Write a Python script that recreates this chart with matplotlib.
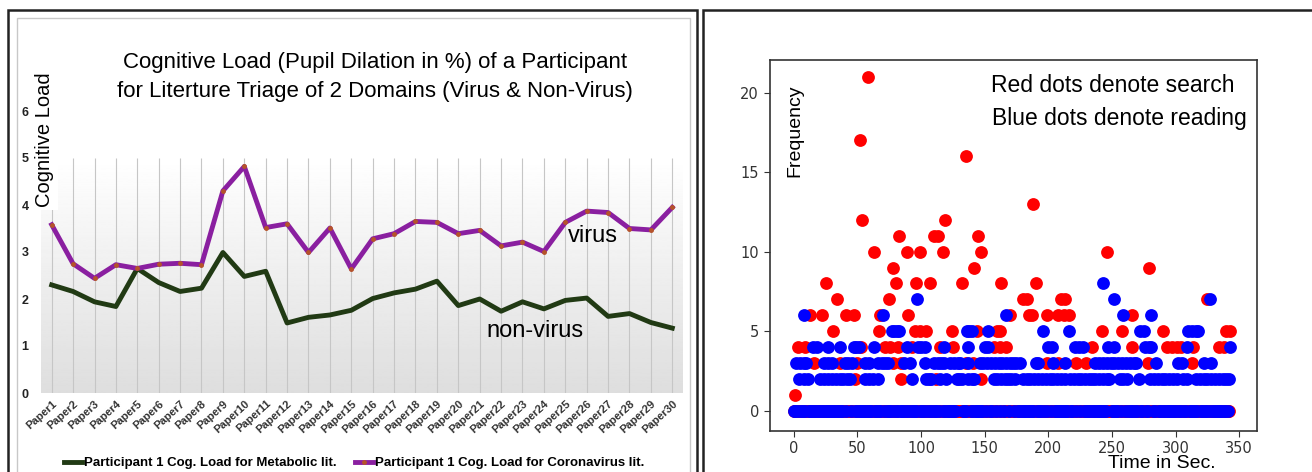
import matplotlib
matplotlib.use('Agg')
import matplotlib.pyplot as plt
import numpy as np
from matplotlib.patches import Rectangle

# ---- left chart: cognitive load per paper ----
papers = ['Paper%d' % i for i in range(1, 31)]
virus = [3.58, 2.75, 2.44, 2.73, 2.65, 2.74, 2.76, 2.73, 4.30, 4.82,
         3.52, 3.60, 2.99, 3.51, 2.64, 3.28, 3.39, 3.65, 3.63, 3.39,
         3.46, 3.13, 3.21, 3.01, 3.63, 3.87, 3.84, 3.50, 3.47, 3.95]
nonvirus = [2.30, 2.16, 1.94, 1.84, 2.65, 2.35, 2.16, 2.23, 2.99, 2.48,
            2.59, 1.49, 1.61, 1.66, 1.76, 2.01, 2.13, 2.21, 2.38, 1.86,
            2.00, 1.74, 1.94, 1.79, 1.97, 2.02, 1.63, 1.69, 1.50, 1.38]

# ---- right chart: frequency per second (non-zero values, zero elsewhere) ----
search = {
    1: [1],
    2: [48, 84, 112, 147],
    3: [16, 36, 50, 78, 84, 135, 141, 199, 208, 222, 230, 278, 313],
    4: [3, 9, 53, 72, 76, 82, 93, 115, 125, 157, 162, 167, 234, 266, 293, 297,
        301, 304, 314, 334, 338],
    5: [31, 67, 95, 99, 104, 124, 144, 160, 162, 242, 258, 290, 340, 343],
    6: [13, 22, 41, 47, 68, 90, 170, 185, 187, 199, 208, 212, 216, 266],
    7: [34, 75, 180, 183, 210, 213, 325],
    8: [25, 80, 96, 107, 132, 163, 190],
    9: [78, 142, 279],
    10: [63, 89, 99, 117, 147, 246],
    11: [83, 110, 113, 145],
    12: [54, 119],
    13: [188],
    16: [135],
    17: [52],
    21: [58],
}
reading = {
    2: [4, 8, 11, 21, 24, 27, 30, 33, 36, 39, 42, 44, 56, 59, 62, 66, 93, 104,
        106, 108, 115, 120, 128, 130, 132, 137, 140, 142, 157, 160, 163, 166,
        168, 171, 174, 180, 183, 186, 189, 192, 195, 198, 201, 204, 207, 210,
        213, 217, 220, 223, 226, 229, 232, 234, 237, 240, 243, 246, 248, 256,
        259, 262, 271, 280, 283, 286, 289, 292, 295, 298, 301, 306, 309, 316,
        319, 322, 325, 328, 331, 334, 337, 340, 342],
    3: [2, 5, 8, 10, 24, 27, 30, 40, 43, 46, 56, 59, 66, 69, 72, 74, 87, 91, 103,
        110, 113, 116, 118, 123, 126, 129, 131, 137, 146, 149, 152, 155, 158,
        161, 164, 167, 170, 172, 175, 178, 190, 192, 204, 213, 237, 240, 243,
        246, 249, 252, 255, 258, 261, 264, 267, 269, 285, 302, 305, 322, 328],
    4: [15, 18, 27, 36, 47, 49, 51, 63, 89, 98, 100, 103, 118, 137, 150, 153,
        200, 203, 221, 224, 227, 247, 252, 276, 279, 281, 309, 343],
    5: [77, 79, 81, 83, 136, 138, 140, 153, 196, 216, 272, 275, 310, 313, 316, 318],
    6: [8, 70, 167, 259, 281],
    7: [97, 252, 327],
    8: [243],
}
seconds = np.arange(0, 344)


def to_points(levels):
    ts, fs = [], []
    for f, times in levels.items():
        ts += times
        fs += [f] * len(times)
    busy = set(ts)
    zeros = [t for t in seconds if t not in busy]
    return np.array(zeros + ts), np.array([0] * len(zeros) + fs)


W, H = 1312, 472
sans = ['Liberation Sans', 'DejaVu Sans']
fig = plt.figure(figsize=(W / 100, H / 100), dpi=100)

# panel frames
fig.add_artist(Rectangle((8 / W, -0.1), (697 - 8) / W, 1.1 - 10 / H, transform=fig.transFigure,
                         fill=False, ec='#222222', lw=1.8))
fig.add_artist(Rectangle((17 / W, -0.1), (690 - 17) / W, 1.1 - 18 / H, transform=fig.transFigure,
                         fill=False, ec='#c8c8c8', lw=1.0))
fig.add_artist(Rectangle((703 / W, -0.1), 0.6, 1.1 - 10 / H, transform=fig.transFigure,
                         fill=False, ec='#222222', lw=1.8))

# left chart
ax1 = fig.add_axes([41 / W, 1 - 393 / H, (683 - 41) / W, (393 - 111) / H])
x = np.arange(1, len(papers) + 1)
grad = np.linspace(0.87, 1.0, 256).reshape(-1, 1)
ax1.imshow(grad, extent=[0.5, 30.5, 0, 5], origin='lower', cmap='gray', vmin=0, vmax=1,
           aspect='auto', zorder=0)
ax1.vlines(x, 0, 5, color='#c6c6c6', lw=0.8, zorder=1)
ax1.plot(x, nonvirus, color='#213a14', lw=3.5, zorder=3, solid_joinstyle='round',
         label='Participant 1 Cog. Load for Metabolic lit.')
ax1.plot(x, virus, color='#8a1fa0', lw=3.5, zorder=4, solid_joinstyle='round',
         marker='o', ms=2.5, mfc='#b5532a', mec='#b5532a',
         label='Participant 1 Cog. Load for Coronavirus lit.')
ax1.set_xlim(0.5, 30.5)
ax1.set_ylim(0, 6)
ax1.set_yticks(range(7))
ax1.set_yticklabels([str(v) for v in range(7)], fontsize=9, fontweight='bold',
                    family=sans, color='#222222')
ax1.set_xticks(x)
ax1.set_xticklabels(papers, rotation=42, ha='right', rotation_mode='anchor', fontsize=8,
                    fontweight='bold', family=sans, color='#333333')
ax1.tick_params(length=0)
ax1.tick_params(axis='y', pad=9)
ax1.tick_params(axis='x', pad=4)
for s in ax1.spines.values():
    s.set_visible(False)
ax1.set_facecolor('none')
ax1.text(26.3, 3.34, 'virus', fontsize=17, family=sans, ha='center', va='center', zorder=5)
ax1.text(23.6, 1.32, 'non-virus', fontsize=17, family=sans, ha='center', va='center', zorder=5)

fig.text(375 / W, 1 - 77 / H,
         'Cognitive Load (Pupil Dilation in %) of a Participant\n'
         'for Literture Triage of 2 Domains (Virus & Non-Virus)',
         fontsize=16, family=sans, ha='center', va='center', linespacing=1.45)
fig.text(45 / W, 1 - 140 / H, 'Cognitive Load', rotation=90, fontsize=14.5, family=sans,
         ha='center', va='center',
         bbox=dict(boxstyle='square,pad=0.15', fc='white', ec='none'))
fig.legend(loc='center', bbox_to_anchor=(354 / W, 1 - 463 / H), ncol=2, frameon=False,
           handlelength=1.4, handletextpad=0.1, columnspacing=1.4,
           prop={'family': sans, 'weight': 'bold', 'size': 9.5})

# right chart
ax2 = fig.add_axes([769.5 / W, 1 - 431 / H, (1257 - 769.5) / W, (431 - 60) / H])
rt, rf = to_points(search)
bt, bf = to_points(reading)
ax2.scatter(rt, rf, s=85, color='red', linewidths=0, zorder=2)
ax2.scatter(bt, bf, s=85, color='blue', linewidths=0, zorder=3)
ax2.set_xlim(-19, 364)
ax2.set_ylim(-1.28, 22.05)
ax2.set_xticks([0, 50, 100, 150, 200, 250, 300, 350])
ax2.set_yticks([0, 5, 10, 15, 20])
ax2.tick_params(labelsize=10.5, colors='#333333', length=4)
for s in ax2.spines.values():
    s.set_color('#333333')
    s.set_linewidth(1.2)

fig.text(795 / W, 1 - 131 / H, 'Frequency', rotation=90, fontsize=14, family=sans,
         ha='center', va='center')
fig.text(1113 / W, 1 - 85 / H, 'Red dots denote search', fontsize=16.5, family=sans,
         ha='center', va='center')
fig.text(1119 / W, 1 - 118 / H, 'Blue dots denote reading', fontsize=16.5, family=sans,
         ha='center', va='center')
fig.text(1162 / W, 1 - 463 / H, 'Time in Sec.', fontsize=14, family=sans,
         ha='center', va='center')

fig.savefig('out.png', dpi=100)
